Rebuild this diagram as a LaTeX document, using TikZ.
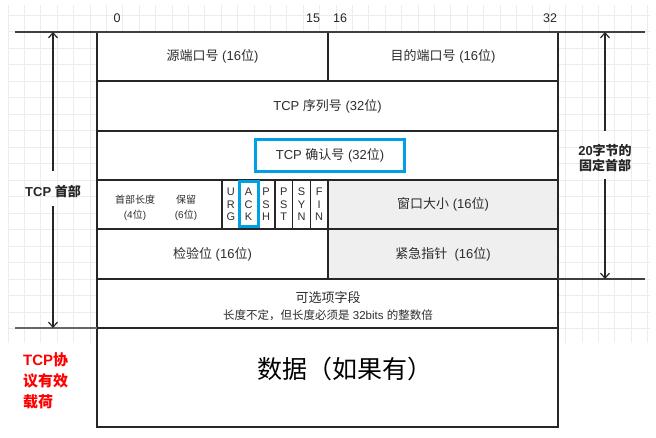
\documentclass[tikz,border=0pt]{standalone}
\usepackage{fontspec}
\setmainfont{Liberation Sans}
\newfontfamily\cjk{Noto Sans CJK SC}
\usetikzlibrary{arrows.meta}
\definecolor{txt}{RGB}{45,45,45}
\definecolor{cellgray}{RGB}{239,239,239}
\definecolor{ackblue}{RGB}{0,160,228}
\definecolor{gridc}{RGB}{236,236,236}
\newcommand\zh[1]{{\cjk #1}}
\begin{document}
\begin{tikzpicture}[x=1pt,y=-1pt,
  cell/.style={draw=black!85, line width=1.3pt, fill=white, inner sep=0pt, outer sep=0pt,
    anchor=north west, text=txt, font=\fontsize{13}{15}\selectfont, align=center},
  graycell/.style={cell, fill=cellgray},
  flagcell/.style={cell, minimum width=17.67pt, minimum height=49pt, font=\fontsize{11}{12.5}\selectfont},
  hl/.style={draw=ackblue, line width=3pt, inner sep=0pt},
  dimarrow/.style={draw=black!85, line width=1.2pt, -{Straight Barb[length=5pt,width=9pt]}},
  guide/.style={draw=black!75, line width=1.2pt},
  axislbl/.style={font=\fontsize{12.5}{14}\selectfont, text=black!85},
  sidelbl/.style={font=\bfseries\fontsize{13}{15.5}\selectfont, text=black!85, align=center, inner sep=3pt},
  small/.style={text=txt, font=\fontsize{10}{15}\selectfont, align=center},
]
\useasboundingbox (0,0) rectangle (656,438);
% faint background grid
\foreach \k in {0,...,39} \draw[gridc, line width=0.6pt] (7.9+16.4*\k,5) -- (7.9+16.4*\k,343);
\foreach \k in {0,...,19} \draw[gridc, line width=0.6pt] (8,15+16.5*\k) -- (650,15+16.5*\k);

% bit position labels
\node[axislbl] (l0) at (117,18) {0};
\node[axislbl] (l15) at (313,18) {15};
\node[axislbl] (l16) at (340,18) {16};
\node[axislbl] (l32) at (550,18) {32};

% guide coordinates
\coordinate (tl) at (15,32);
\coordinate (tr) at (645,32);
\coordinate (bl) at (15,328);
\coordinate (rr) at (645,279);
\coordinate (lt) at (53,32);
\coordinate (lb) at (53,328);
\coordinate (rt) at (605,32);
\coordinate (rb) at (605,279);

% row 1
\node[cell, minimum width=231pt, minimum height=49pt] (src) at (97,32) {\zh{源端口号} (16\zh{位})};
\node[cell, minimum width=230pt, minimum height=49pt] (dst) at (328,32) {\zh{目的端口号} (16\zh{位})};
% row 2
\node[cell, minimum width=461pt, minimum height=50pt] (seq) at (97,81) {TCP \zh{序列号} (32\zh{位})};
% row 3
\node[cell, minimum width=461pt, minimum height=49pt] (ack) at (97,131) {};
% row 4
\node[cell, minimum width=125pt, minimum height=49pt] (hdr) at (97,180) {};
\node[small] (hlen) at (135,207.5) {\zh{首部长度}\\(4\zh{位})};
\node[small] (resv) at (186,207.5) {\zh{保留}\\(6\zh{位})};
\node[flagcell] (furg) at (222,180) {U\\R\\G};
\node[flagcell] (fack) at (239.67,180) {A\\C\\K};
\node[flagcell] (fpsh) at (257.33,180) {P\\S\\H};
\node[flagcell] (frst) at (275,180) {P\\S\\T};
\node[flagcell] (fsyn) at (292.67,180) {S\\Y\\N};
\node[flagcell] (ffin) at (310.33,180) {F\\I\\N};
\node[graycell, minimum width=230pt, minimum height=49pt] (win) at (328,180) {\zh{窗口大小} (16\zh{位})};
% row 5
\node[cell, minimum width=231pt, minimum height=50pt] (csum) at (97,229) {\zh{检验位} (16\zh{位})};
\node[graycell, minimum width=230pt, minimum height=50pt] (urg) at (328,229) {\zh{紧急指针}~ (16\zh{位})};
% row 6
\node[cell, minimum width=461pt, minimum height=49pt] (opt) at (97,279) {};
\node[text=txt, align=center, font=\fontsize{13}{16.7}\selectfont] (opttxt) at (328,306)
  {\zh{可选项字段}\\{\fontsize{11.5}{13}\selectfont\zh{长度不定，但长度必须是} 32bits \zh{的整数倍}}};
% data
\node[cell, line width=2.8pt, minimum width=461pt, minimum height=99pt] (data) at (97,328) {};
\node[text=black, font=\fontsize{25}{28}\selectfont] (datatxt) at (345,369) {\zh{数据（如果有）}};

% highlights
\node[hl, minimum width=149pt, minimum height=32pt, text=txt, font=\fontsize{13}{15}\selectfont] (acktxt) at (330,155.5) {TCP \zh{确认号} (32\zh{位})};
\node[hl, minimum width=19pt, minimum height=45pt] (ackhl) at (fack.center) {};

% guide lines
\draw[guide] (tl) -- (tr);
\draw[guide, draw=black!60] (bl) -- (data.north west);
\draw[guide] (opt.north east) -- (rr);

% left dimension
\node[sidelbl] (hdrL) at (53,192) {TCP \zh{首部}};
\draw[dimarrow] ([yshift=12pt]hdrL.north) -- (lt);
\draw[dimarrow] ([yshift=-5pt]hdrL.south) -- (lb);

% right dimension
\node[sidelbl] (hdrR) at (605,158) {20\zh{字节的}\\\zh{固定首部}};
\draw[dimarrow] ([yshift=10pt]hdrR.north) -- (rt);
\draw[dimarrow] ([yshift=-4pt]hdrR.south) -- (rb);

% payload label
\node[anchor=west, text=red, font=\bfseries\fontsize{15}{21}\selectfont, align=left, inner sep=0pt] (payload) at (23,381)
  {TCP\zh{协}\\\zh{议有效}\\\zh{载荷}};
\end{tikzpicture}
\end{document}
